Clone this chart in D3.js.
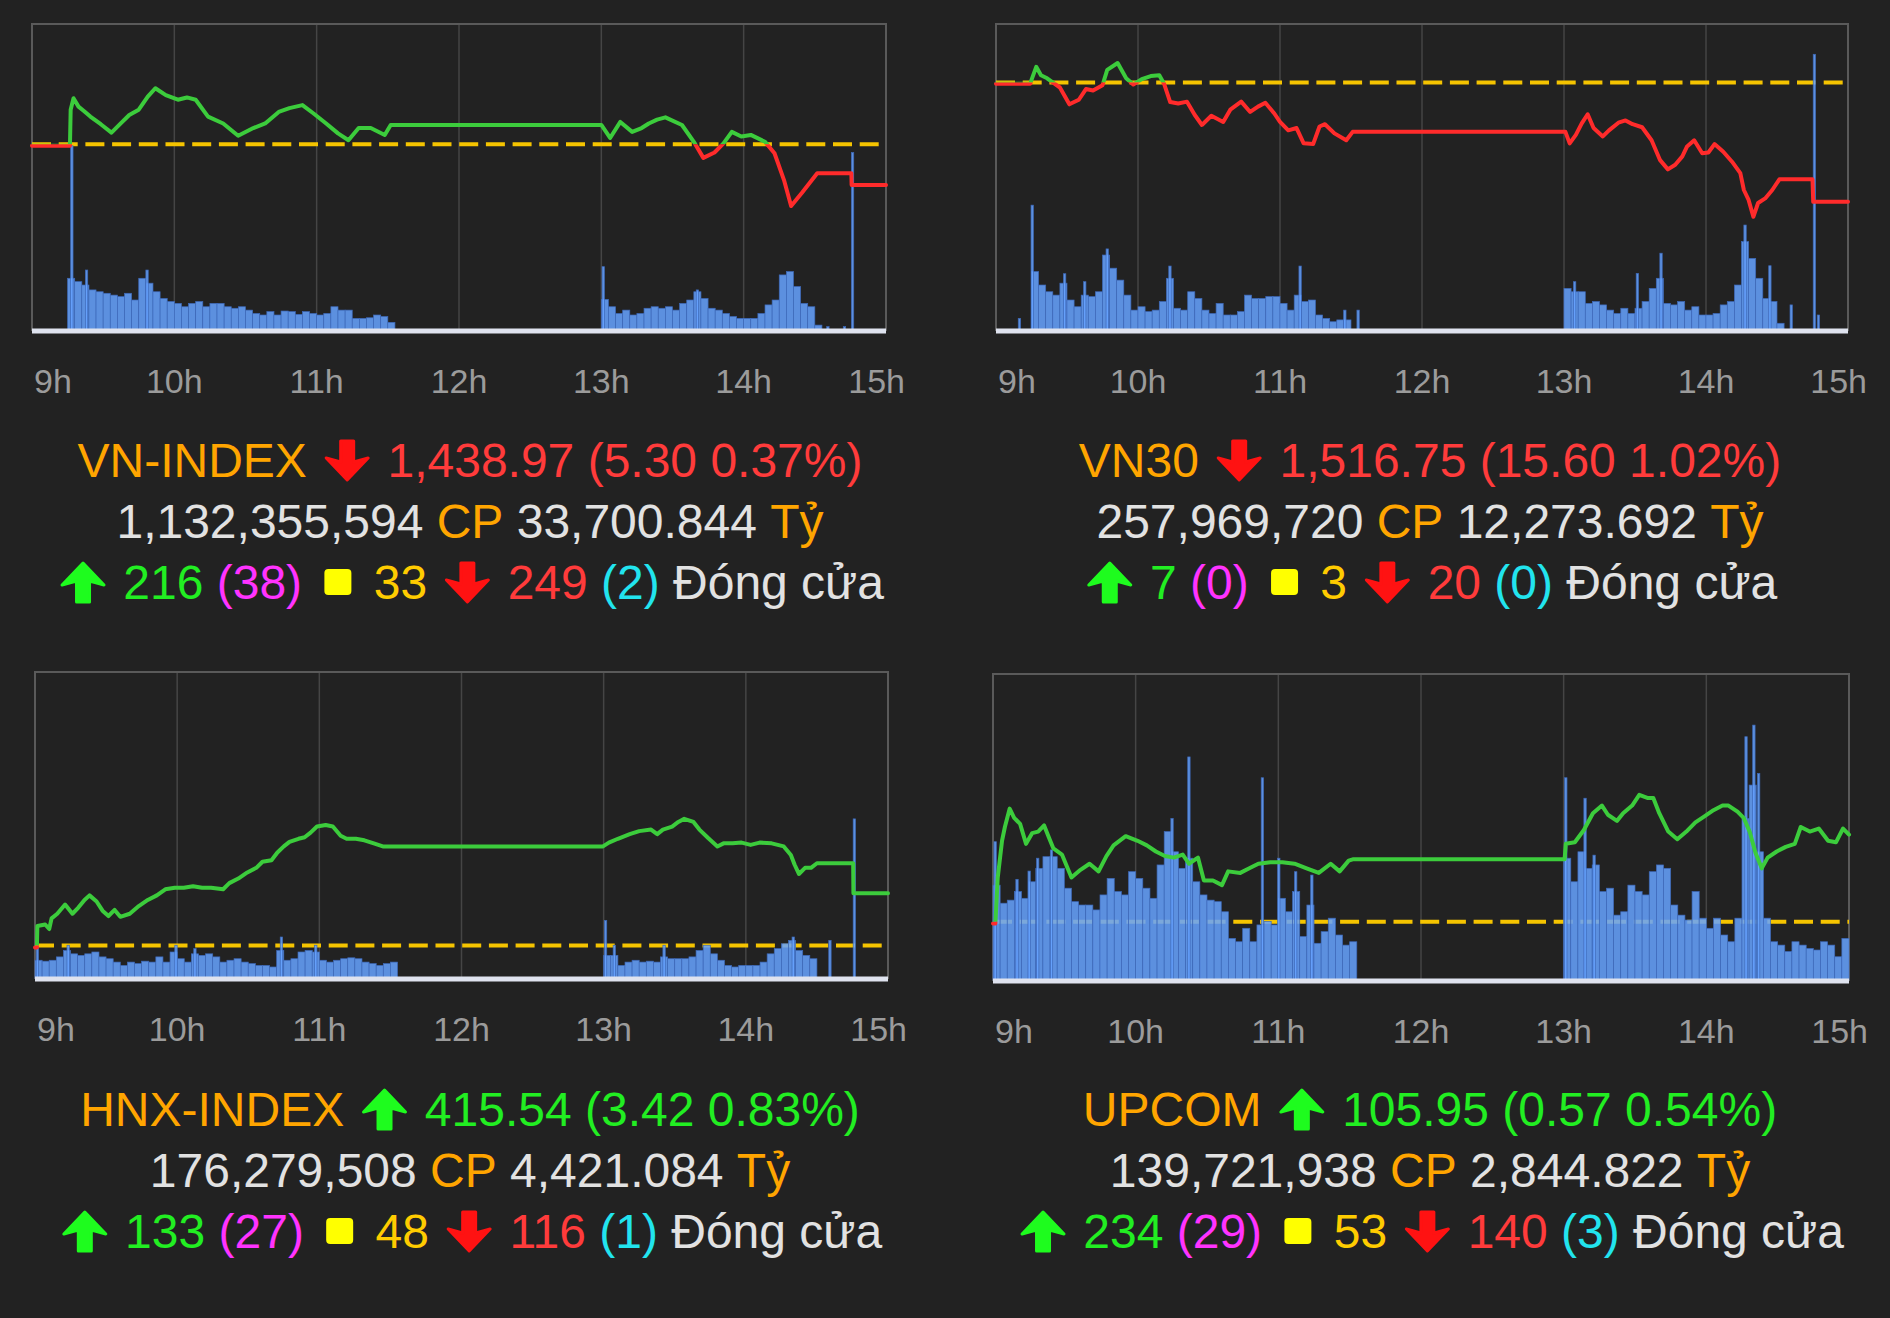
<!DOCTYPE html>
<html>
<head>
<meta charset="utf-8">
<script src="https://cdn.jsdelivr.net/npm/d3@7"></script>
<style>
  html, body { margin: 0; background: #222; }
  svg { display: block; }
</style>
</head>
<body>
<svg id="chart" width="1890" height="1318"></svg>
<script>
/**
 * DATA
 * time is minutes after 9:00, volume is relative (percent of panel height)
 * */
const hourTicks = [0, 60, 120, 180, 240, 300, 360];
const hourLabels = ["9h", "10h", "11h", "12h", "13h", "14h", "15h"];

const indexNames = ["VN-INDEX", "VN30", "HNX-INDEX", "UPCOM"];
const refValues = [1444.27, 1532.35, 412.12, 105.38];
const closeText = ["1,438.97", "1,516.75", "415.54", "105.95"];
const changeText = ["5.30 0.37%", "15.60 1.02%", "3.42 0.83%", "0.57 0.54%"];
const direction = ["down", "down", "up", "up"];
const volumeText = ["1,132,355,594", "257,969,720", "176,279,508", "139,721,938"];
const valueText = ["33,700.844", "12,273.692", "4,421.084", "2,844.822"];
const advances = ["216", "7", "133", "234"];
const ceilings = ["38", "0", "27", "29"];
const unchanged = ["33", "3", "48", "53"];
const declines = ["249", "20", "116", "140"];
const floors = ["2", "0", "1", "3"];

// VN-INDEX
const vnTime = [0,16,16.3,17.5,19.6,22,24.6,29,33.5,37.4,41,45,48.8,52,56.4,61.5,65.3,69,74.2,80.6,86.9,93.3,98.3,104,108.5,114,118.7,124,129,133.4,137.7,142.8,148.7,151.2,240,243.7,248,253,257,260,263.5,267,274,279,283,287.7,291.5,295,299,303,309,313,317,320,324.5,331,345.4,345.5,360];
const vnPrice = [1444.1,1444.1,1448.8,1450.3,1449.2,1448.6,1447.9,1446.9,1445.8,1447.0,1448.1,1448.8,1450.5,1451.6,1450.7,1450.1,1450.4,1450.1,1447.9,1447.0,1445.4,1446.4,1447.0,1448.5,1449.0,1449.4,1448.3,1447.0,1445.7,1444.8,1446.4,1446.4,1445.5,1446.8,1446.8,1445.1,1447.2,1445.9,1446.4,1447.0,1447.5,1447.8,1446.8,1444.6,1442.5,1443.2,1444.4,1445.9,1445.3,1445.5,1444.6,1443.1,1439.6,1436.2,1437.9,1440.5,1440.5,1438.97,1438.97];
const vnVolAM = [16.9,15.8,14.7,13.1,12.5,12.0,11.4,10.9,12.0,9.8,16.9,15.3,12.5,10.3,9.3,8.7,7.6,8.7,9.3,7.6,8.7,8.7,7.6,7.1,7.6,6.5,5.4,4.9,6.0,4.9,6.2,6.0,5.1,6.0,5.4,4.9,5.4,7.6,6.5,6.5,3.8,3.8,4.0,4.9,4.4,2.5];
const vnVolPM = [10,7.6,5.4,6.5,4.9,5.4,7.1,7.6,7.1,7.6,6.5,8.7,9.8,12.5,10.3,7.1,6.5,5.4,4.4,3.8,3.8,3.8,5.4,8.2,9.8,18.0,19.1,14.2,8.7,7.6,1.6];
const vnSpikeTime = [16.3,22.5,48,240.3,280,335,342,345.4];
const vnSpikeVol = [60.2,19.6,19.6,20.7,13.1,1.1,1.1,58.0];

// VN30
const v30Time = [0,14.5,15,17,19,21.6,24.7,27,31,35,38,41,45,47,51.4,55,58,61.6,65.4,69,71,73.6,77,80.7,84,87,91,96,99,103.6,107.4,110.7,113.8,117.6,120,123.5,127,130,134,136.7,139,143,148,150.7,240.6,242.4,245,247.5,250,252.5,256.4,259,263,266,269,273,277,280.6,283.9,287,290,292,295,298.4,301,303.6,307.3,311,314.5,316,318,320,322,325,328,331,345,345.3,360];
const v30Price = [1532.2,1532.2,1532.7,1534.4,1533.3,1532.9,1532.2,1531.7,1529.5,1530.1,1531.5,1531.3,1532.0,1534.0,1534.9,1532.9,1532.1,1532.8,1533.2,1533.3,1532.2,1529.8,1529.6,1529.85,1528.1,1526.8,1528.0,1527.2,1528.8,1529.85,1528.5,1529.2,1529.7,1528.3,1527.2,1526.1,1526.4,1524.4,1524.3,1526.6,1526.9,1525.7,1524.8,1525.9,1525.9,1524.4,1525.5,1527.0,1528.2,1526.4,1525.3,1526.1,1527.1,1527.4,1526.9,1526.5,1524.8,1522.2,1521.0,1521.6,1522.7,1524.0,1524.8,1523.1,1523.2,1524.3,1523.3,1522.0,1520.5,1518.3,1517.0,1514.8,1516.6,1517.2,1518.3,1519.7,1519.7,1516.75,1516.75];
const v30VolAM = [19.1,14.7,12.5,11.4,15.3,9.8,7.6,11.4,10.9,12.5,24.5,20.2,16.3,11.4,6.5,7.6,6.0,6.5,9.3,16.9,7.1,6.5,12.5,10.3,6.5,5.4,8.7,4.9,4.9,6.0,11.4,10.3,10.3,10.9,10.9,8.7,6.5,11.4,9.3,9.8,4.9,3.8,2.7,3.3,3.3];
const v30VolPM = [13.6,12.5,12.5,8.7,9.3,8.2,6.5,5.4,7.1,5.4,7.1,9.3,13.6,16.9,8.7,8.2,9.3,6.5,7.6,4.9,4.9,5.4,8.2,9.3,14.7,28.9,23.4,16.9,10.3,9.3,2.2];
const v30SpikeTime = [9.4,14.8,28.5,37,46.5,73,128,146.9,152.5,244,270.5,280.5,316,326.5,335.5,345.3,347];
const v30SpikeVol = [3.8,40.8,18.4,15.8,26.5,20.9,20.9,6.5,6.5,15.8,18.5,25.1,34.3,21.0,8.2,90.1,4.9];

// HNX-INDEX
const hnxTime = [0,0.8,1,4.3,6,7,9.4,12.7,15.8,18.3,20.9,23,26,28.5,31,33.6,36,40,43.8,47.6,51.4,55,59,62.8,66.7,70.5,74.3,79.4,82,85.8,89.6,93.4,96,99.8,102.3,105,107.4,111.2,113.8,116.3,119,122.7,125.7,129,131.5,135.4,139,143,146.8,150.6,239.7,242.2,246,251,255,260,262.6,265,268.9,271.5,274,277.9,280.4,284.2,288,290.6,294.4,298.2,302,305.8,310.9,316,319,320.6,322.4,325,327.5,330,345.3,345.4,360];
const hnxPrice = [412.0,412.0,413.4,413.5,413.2,413.9,414.2,414.8,414.2,414.6,415.1,415.4,415.0,414.4,414.05,414.45,414.0,414.2,414.7,415.1,415.4,415.8,415.9,415.9,416.0,415.9,415.9,415.8,416.2,416.5,416.9,417.2,417.6,417.7,418.2,418.6,418.9,419.1,419.2,419.5,419.9,420.0,419.9,419.3,419.1,419.1,419.0,418.8,418.6,418.6,418.6,418.85,419.1,419.4,419.6,419.7,419.4,419.7,419.9,420.2,420.4,420.2,419.7,419.13,418.6,418.8,418.8,418.85,418.7,418.85,418.8,418.6,418.04,417.4,416.8,417.2,417.2,417.5,417.5,415.54,415.54];
const hnxVolAM = [5.8,5.5,5.8,6.9,9.0,7.9,7.4,7.9,8.5,6.9,6.3,5.2,4.1,5.2,4.7,5.5,5.2,6.9,5.2,8.5,6.3,5.2,7.9,7.4,7.9,6.9,5.2,5.8,6.3,5.2,4.7,4.1,4.1,3.6,9.0,5.8,6.3,8.5,9.0,8.5,5.8,5.2,5.8,6.3,6.6,6.3,5.2,4.7,4.1,4.7,5.2];
const hnxVolPM = [7.4,7.4,4.1,5.2,5.8,5.2,5.5,5.2,6.9,6.3,6.3,6.3,6.9,9.0,10.7,7.9,5.8,4.1,3.6,4.1,4.1,4.1,5.2,7.9,9.6,11.2,12.3,9.0,7.4,6.3];
const hnxSpikeTime = [0.5,13.5,59,67,103.5,118,240.3,244,265,319.5,335,345.3];
const hnxSpikeVol = [9.6,10.7,10.7,9.6,13.4,10.7,18.8,10.7,10.7,13.4,12.3,52.0];

// UPCOM
const upTime = [0,1,2,3.8,5,7,8.9,11.4,13.9,16.5,19,21.5,23.3,25.4,29,33,36.8,40.6,44.4,47.7,50.7,55.8,60.8,64.7,68.5,72.3,76,79.8,82.4,86.2,88.7,92.5,96.3,98.9,104,107.8,111.6,116.6,121.7,126.8,131.9,137,142,145.8,149.6,151.6,240.4,240.9,244.7,248.5,252.3,256.1,258.6,262.4,265,268.8,271.8,275.2,277.7,280.2,284,287.8,291.6,295.4,299.2,303,306.8,309.3,313.1,315.7,318.2,320.7,323.3,325.8,329.6,333.4,337.2,339.7,343.5,347.3,351.2,354.5,357.5,360];
const upPrice = [105.37,105.37,105.67,105.91,106.0,106.12,106.06,106.02,105.89,105.96,105.97,106.01,105.94,105.86,105.82,105.67,105.72,105.76,105.71,105.81,105.88,105.94,105.91,105.88,105.84,105.81,105.8,105.82,105.76,105.8,105.65,105.65,105.62,105.71,105.7,105.73,105.76,105.77,105.77,105.76,105.73,105.7,105.76,105.71,105.78,105.79,105.79,105.89,105.9,105.98,106.09,106.14,106.08,106.04,106.09,106.14,106.21,106.19,106.19,106.09,105.97,105.92,105.97,106.03,106.07,106.11,106.14,106.14,106.1,106.06,105.97,105.83,105.73,105.8,105.84,105.87,105.89,106.0,105.97,105.99,105.91,105.9,105.99,105.95];
const upVolAM = [31,25.1,26.1,28.9,26.7,32.1,36.5,40.3,40.3,36.5,30,25.6,24.5,24.5,22.9,27.8,33.2,28.9,27.8,35.4,33.2,30,26.7,37.6,48.5,41.9,36.5,39.8,32.1,27.8,26.1,25.6,22.3,13.6,12.5,16.9,12.5,18,19.1,18,26.7,22.3,28.9,14.2,24.5,12,15.8,20.2,14.7,11.4,12.5];
const upVolPM = [39.8,32.1,41.9,36.5,37.6,28.9,30,21.2,22.3,31,28.9,27.8,35.4,37.6,36.5,24.5,21.2,19.6,28.9,20.2,16.9,20.2,14.7,12.5,20.2,52.8,63.7,41.9,20.2,12.5,11.4,9.3,12.5,11.4,10.3,9.8,12.5,11.4,7.6,13.6];
const upSpikeTime = [0.4,9.6,14.7,18.3,24.1,74.8,81.9,112.8,119.7,126.8,133.6,240.4,248.5,252.3,316.2,319.5,321.5];
const upSpikeVol = [45.2,32.9,35.6,39.8,42.5,52.8,72.9,66.1,39.8,35.4,34.3,66.1,59.4,40.8,79.5,83.3,67.5];

/**
 * LAYOUT
 * */
const svg = d3.select("#chart");
const FONT = "'Liberation Sans', Arial, sans-serif";
const C = {
  orange: "#ffa500", text: "#e2e2e2", green: "#22ee22", red: "#ff3b3b",
  greenArrow: "#1efc1e", redArrow: "#ff1212", magenta: "#ff33ff",
  yellow: "#ffcc00", square: "#ffff00", cyan: "#22e4ee",
  line: "#3ccc3c", lineDown: "#ff2b2b", ref: "#f5c400",
  bar: "#66a3ff", barEdge: "#3d68b8", grid: "#454545", box: "#5a5a5a", axis: "#dfe3ef", tick: "#9b9b9b"
};

const panels = [
  { box: [32, 886, 24, 330], domain: [1420, 1460], cx: 470, base: 477,
    time: vnTime, price: vnPrice, amStart: 15, am: vnVolAM, pm: vnVolPM, spT: vnSpikeTime, spV: vnSpikeVol },
  { box: [996, 1848, 24, 330], domain: [1500, 1540], cx: 1430, base: 477,
    time: v30Time, price: v30Price, amStart: 15, am: v30VolAM, pm: v30VolPM, spT: v30SpikeTime, spV: v30SpikeVol },
  { box: [35, 888, 672, 978], domain: [410, 430], cx: 470, base: 1126,
    time: hnxTime, price: hnxPrice, amStart: 0, am: hnxVolAM, pm: hnxVolPM, spT: hnxSpikeTime, spV: hnxSpikeVol },
  { box: [993, 1849, 674, 980], domain: [105, 107], cx: 1430, base: 1126,
    time: upTime, price: upPrice, amStart: 0, am: upVolAM, pm: upVolPM, spT: upSpikeTime, spV: upSpikeVol }
];

panels.forEach((p, i) => drawPanel(p, i));

function drawPanel(p, i) {
  const [x0, x1, y0, y1] = p.box;
  const g = svg.append("g");

  const xScale = d3.scaleLinear().domain([0, 360]).range([x0, x1]);
  const yScale = d3.scaleLinear().domain(p.domain).range([y1, y0]);
  const vScale = d3.scaleLinear().domain([0, 100]).range([y1, y0]);
  const refY = yScale(refValues[i]);

  // grid lines at each hour
  g.selectAll(".grid")
    .data(hourTicks.slice(1, -1))
    .join("line")
    .attr("x1", d => xScale(d)).attr("x2", d => xScale(d))
    .attr("y1", y0).attr("y2", y1)
    .attr("stroke", C.grid).attr("stroke-width", 1.5);

  g.append("rect")
    .attr("x", x0).attr("y", y0).attr("width", x1 - x0).attr("height", y1 - y0)
    .attr("fill", "none").attr("stroke", C.box).attr("stroke-width", 2);

  // reference (previous close)
  g.append("line")
    .attr("x1", x0).attr("x2", x1).attr("y1", refY).attr("y2", refY)
    .attr("stroke", C.ref).attr("stroke-width", 4).attr("stroke-dasharray", "19 7.7");

  // volume bars
  const bars = [];
  p.am.forEach((v, k) => bars.push({ t: p.amStart + 3 * k, w: 3, v }));
  p.pm.forEach((v, k) => bars.push({ t: 240 + 3 * k, w: 3, v }));
  p.spT.forEach((t, k) => bars.push({ t, w: 1, v: p.spV[k] }));

  g.selectAll(".bar")
    .data(bars)
    .join("rect")
    .attr("class", "bar")
    .attr("x", d => xScale(d.t))
    .attr("width", d => xScale(d.t + d.w) - xScale(d.t))
    .attr("y", d => vScale(d.v))
    .attr("height", d => vScale(0) - vScale(d.v))
    .attr("fill", C.bar).attr("fill-opacity", 0.86)
    .attr("stroke", C.barEdge).attr("stroke-width", 0.7);

  g.append("rect")
    .attr("x", x0).attr("y", y1 - 1.5).attr("width", x1 - x0).attr("height", 5)
    .attr("fill", C.axis);

  // price line, green above the reference, red below
  const pts = p.time.map((t, k) => [t, p.price[k]]);
  const line = d3.line().x(d => xScale(d[0])).y(d => yScale(d[1]));
  const defs = svg.append("defs");
  defs.append("clipPath").attr("id", "up" + i).append("rect")
    .attr("x", x0 - 5).attr("y", y0 - 5).attr("width", x1 - x0 + 10).attr("height", refY - y0 + 5);
  defs.append("clipPath").attr("id", "dn" + i).append("rect")
    .attr("x", x0 - 5).attr("y", refY).attr("width", x1 - x0 + 10).attr("height", y1 - refY + 5);

  [["up", C.line], ["dn", C.lineDown]].forEach(([id, col]) => {
    g.append("path")
      .datum(pts)
      .attr("d", line)
      .attr("clip-path", `url(#${id}${i})`)
      .attr("fill", "none").attr("stroke", col)
      .attr("stroke-width", 4).attr("stroke-linejoin", "round").attr("stroke-linecap", "round");
  });

  // hour labels
  g.selectAll(".tick")
    .data(hourTicks)
    .join("text")
    .attr("x", (d, k) => xScale(d) + (k === 0 ? 2 : k === hourTicks.length - 1 ? 19 : 0))
    .attr("y", y1 + 63)
    .attr("text-anchor", (d, k) => k === 0 ? "start" : k === hourTicks.length - 1 ? "end" : "middle")
    .attr("font-family", FONT).attr("font-size", 34).attr("fill", C.tick)
    .text((d, k) => hourLabels[k]);

  // summary lines
  const isUp = direction[i] === "up";
  const valCol = isUp ? C.green : C.red;
  const lines = [
    [{ t: indexNames[i], c: C.orange }, { icon: direction[i] },
     { t: `${closeText[i]} (${changeText[i]})`, c: valCol }],
    [{ t: volumeText[i], c: C.text }, { t: "CP", c: C.orange },
     { t: valueText[i], c: C.text }, { t: "Tỷ", c: C.orange }],
    [{ icon: "up" }, { t: advances[i], c: C.green }, { t: `(${ceilings[i]})`, c: C.magenta },
     { icon: "square" }, { t: unchanged[i], c: C.yellow }, { icon: "down" },
     { t: declines[i], c: C.red }, { t: `(${floors[i]})`, c: C.cyan }, { t: "Đóng cửa", c: C.text }]
  ];
  lines.forEach((items, li) => drawTextLine(items, p.cx, p.base + li * 61));
}

function drawTextLine(items, cx, base) {
  const size = 48, gap = 13.3;
  const probe = svg.append("text").attr("font-family", FONT).attr("font-size", size);
  items.forEach(it => {
    if (it.t !== undefined) {
      probe.text(it.t);
      it.w = probe.node().getComputedTextLength();
    } else {
      it.w = it.icon === "square" ? 45 : 54;
    }
  });
  probe.remove();
  const total = d3.sum(items, d => d.w) + gap * (items.length - 1);
  let xPos = cx - total / 2;
  const g = svg.append("g");
  items.forEach(it => {
    if (it.t !== undefined) {
      g.append("text")
        .attr("x", xPos).attr("y", base)
        .attr("font-family", FONT).attr("font-size", size).attr("fill", it.c)
        .text(it.t);
    } else if (it.icon === "square") {
      g.append("rect")
        .attr("x", xPos + 9).attr("y", base - 30).attr("width", 27).attr("height", 26)
        .attr("rx", 4).attr("fill", C.square);
    } else {
      drawArrow(g, xPos + 6, base, it.icon);
    }
    xPos += it.w + gap;
  });
}

function drawArrow(g, left, base, dir) {
  // 42 wide, 39 tall, drawn pointing up then flipped for down
  const w = 42, h = 39, shaft = 13, head = 22;
  const c = w / 2;
  const pts = [
    [c, 0], [w, head], [c + shaft / 2, head - 4], [c + shaft / 2, h],
    [c - shaft / 2, h], [c - shaft / 2, head - 4], [0, head]
  ];
  const top = base - 36;
  const path = d3.line()(pts.map(([px, py]) => [left + px, dir === "up" ? top + py : top + h - py])) + "Z";
  g.append("path")
    .attr("d", path)
    .attr("fill", dir === "up" ? C.greenArrow : C.redArrow)
    .attr("stroke", dir === "up" ? C.greenArrow : C.redArrow)
    .attr("stroke-width", 3).attr("stroke-linejoin", "round");
}
</script>
</body>
</html>
